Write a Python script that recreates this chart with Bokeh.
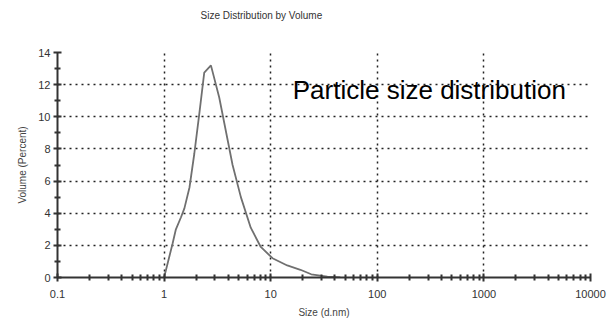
from bokeh.plotting import figure
from bokeh.models import FixedTicker, Range1d, Label, ColumnDataSource, LogAxis
from bokeh.embed import file_html
from bokeh.resources import INLINE

# Data
size_nm = [1.0, 1.2, 1.29, 1.44, 1.55, 1.73, 1.92, 2.14, 2.38, 2.75, 3.29, 3.8,
           4.39, 5.25, 6.5, 8.07, 10.4, 14.3, 19.0, 24.0, 34.0, 45.0]
volume_pct = [0.0, 2.1, 3.0, 3.75, 4.3, 5.6, 7.7, 10.2, 12.75, 13.2, 11.2, 9.1,
              7.0, 5.0, 3.1, 1.9, 1.2, 0.75, 0.48, 0.2, 0.06, 0.0]

x_ticks = [0.1, 1, 10, 100, 1000, 10000]
x_tick_labels = ["0.1", "1", "10", "100", "1000", "10000"]
y_ticks = [0, 2, 4, 6, 8, 10, 12, 14]
y_minor = [1, 3, 5, 7, 9, 11, 13]

title_text = "Size Distribution by Volume"
annotation_text = "Particle size distribution"

FONT = "Liberation Sans"

p = figure(width=608, height=323, x_axis_type="log",
           x_range=Range1d(0.1, 10000), y_range=Range1d(0, 14),
           output_backend="svg", toolbar_location=None,
           min_border_left=57, min_border_right=18,
           min_border_top=52, min_border_bottom=46)
p.outline_line_color = None
p.background_fill_color = "white"
p.border_fill_color = "white"

xax = p.below[0]
yax = p.left[0]

src = ColumnDataSource(dict(x=size_nm, y=volume_pct))
p.line("x", "y", source=src, line_color="#707070", line_width=1.8)

# axes
minor_x = []
for dec in x_ticks[:-1]:
    for m in range(2, 10):
        minor_x.append(dec * m)
xax.ticker = FixedTicker(ticks=x_ticks, minor_ticks=minor_x)
xax.major_label_overrides = {t: l for t, l in zip(x_ticks, x_tick_labels)}
yax.ticker = FixedTicker(ticks=y_ticks, minor_ticks=y_minor)

xax.axis_label = "Size (d.nm)"
yax.axis_label = "Volume (Percent)"

for ax in (xax, yax):
    ax.axis_line_color = "#333333"
    ax.axis_line_width = 2
    ax.major_tick_line_color = "#333333"
    ax.major_tick_line_width = 2
    ax.minor_tick_line_color = "#333333"
    ax.minor_tick_line_width = 2
    ax.major_tick_in = 4
    ax.major_tick_out = 4
    ax.minor_tick_in = 3
    ax.minor_tick_out = 3
    ax.major_label_text_font = FONT
    ax.major_label_text_font_size = "11px"
    ax.major_label_text_color = "#333333"
    ax.axis_label_text_font = FONT
    ax.axis_label_text_font_size = "10px"
    ax.axis_label_text_font_style = "normal"
    ax.axis_label_text_color = "#444444"

xax.major_label_standoff = 8
xax.axis_label_standoff = 6
yax.major_label_standoff = 3
yax.axis_label_standoff = 7

for g in (p.xgrid[0], p.ygrid[0]):
    g.grid_line_color = "#222222"
    g.grid_line_width = 1.5
    g.grid_line_dash = "2 4"
p.xgrid.minor_grid_line_color = None

# invisible spacer axis between the frame and the title
spacer = LogAxis(ticker=FixedTicker(ticks=[1], minor_ticks=[]),
                 axis_line_color=None,
                 major_tick_line_color=None, minor_tick_line_color=None,
                 major_tick_in=0, major_tick_out=26, minor_tick_in=0,
                 minor_tick_out=0, major_label_standoff=0,
                 major_label_overrides={1: ""},
                 major_label_text_font_size="1px")
p.add_layout(spacer, "above")

p.title.text = title_text
p.title.align = "left"
p.title.offset = 143
p.title.standoff = 12
p.title.text_font = FONT
p.title.text_font_size = "10px"
p.title.text_font_style = "normal"
p.title.text_color = "#333333"

lbl = Label(x=16.1, y=11.66, text=annotation_text, text_font=FONT,
            text_font_size="26px", text_color="black",
            text_baseline="alphabetic", text_align="left")
p.add_layout(lbl)

open("out.html", "w").write(file_html(p, INLINE))
